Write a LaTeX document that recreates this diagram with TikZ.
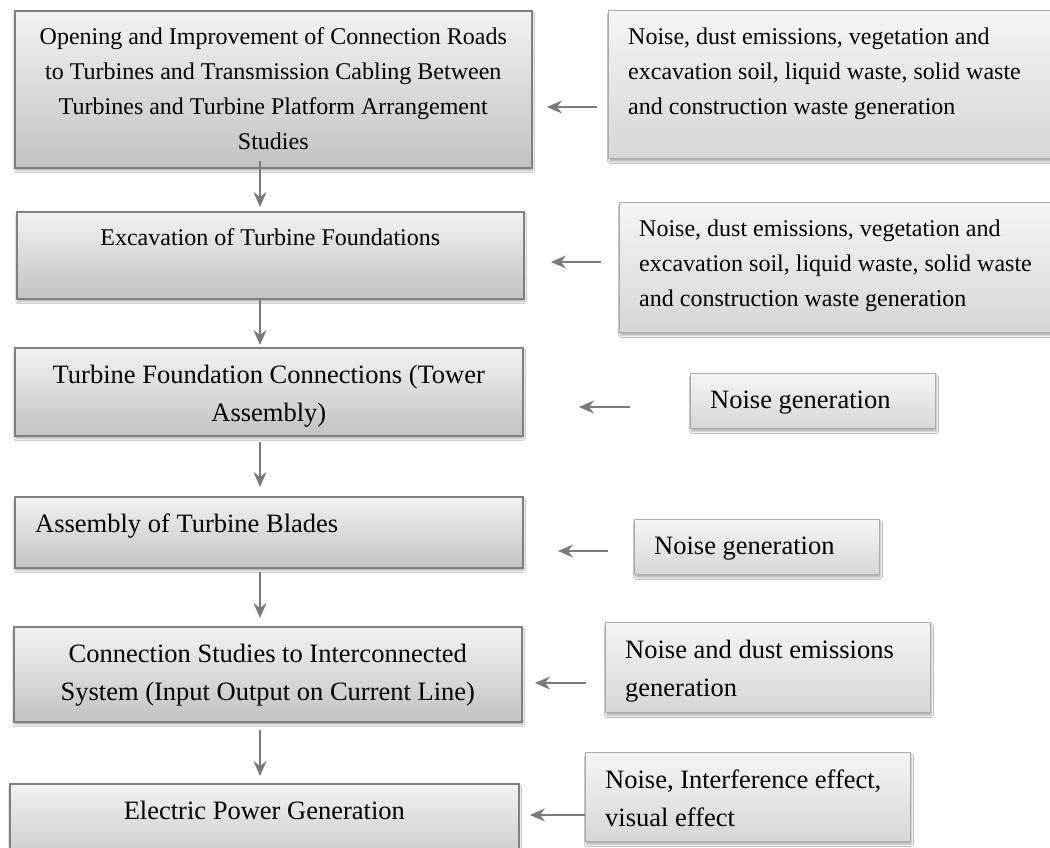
\documentclass[tikz,border=0pt]{standalone}
\usepackage{fontspec}
\setmainfont{Liberation Serif}
\usepackage{tikz}
\usetikzlibrary{positioning,arrows.meta,shadows.blur}
\definecolor{stepline}{RGB}{128,128,128}
\definecolor{steptop}{RGB}{242,242,242}
\definecolor{stepbot}{RGB}{194,194,194}
\definecolor{effline}{RGB}{172,172,172}
\definecolor{efftop}{RGB}{245,245,245}
\definecolor{effbot}{RGB}{214,214,214}
\definecolor{flowgray}{RGB}{122,122,122}

\begin{document}
\begin{tikzpicture}[x=1pt,y=-1pt,
  stepbox/.style={rectangle,draw=stepline,line width=1.6pt,top color=steptop,bottom color=stepbot,
    anchor=north west,inner sep=0pt,
    blur shadow={shadow xshift=1pt,shadow yshift=-3pt,shadow blur steps=6,shadow opacity=30}},
  effbox/.style={rectangle,draw=effline,line width=1.1pt,top color=efftop,bottom color=effbot,
    anchor=north west,inner sep=0pt,
    blur shadow={shadow xshift=1pt,shadow yshift=-3pt,shadow blur steps=6,shadow opacity=30}},
  big/.style={font=\fontsize{24}{35}\selectfont},
  norm/.style={font=\fontsize{26.5}{38}\selectfont},
  txt/.style={inner sep=0pt,align=center},
  txtl/.style={inner sep=0pt,align=left},
  flow/.style={draw=flowgray,line width=1.6pt,-{Stealth[length=15pt,width=13pt,inset=5pt]}}]
\useasboundingbox[fill=white] (0,0) rectangle (1050,848);

% process steps (left) and their effects (right)
\foreach \n/\x/\y/\w/\h in {b1/14/10/517/157, b2/16/211/507/87, b3/14/347/508/88,
    b4/14/496/508/71, b5/13/626/508/95, b6/9/783/509/90}
  \node[stepbox,minimum width=\w pt,minimum height=\h pt] (\n) at (\x,\y) {};
\foreach \n/\x/\y/\w/\h in {r1/608/10/460/148, r2/619/202/450/130, r3/690/373/245/55,
    r4/634/519/245/55, r5/605/622/325/90, r6/585/752/325/89}
  \node[effbox,minimum width=\w pt,minimum height=\h pt] (\n) at (\x,\y) {};

\node[txt,big,below=17.5pt of b1.north] (t1) {Opening and Improvement of Connection Roads\\
  to Turbines and Transmission Cabling Between\\Turbines and Turbine Platform Arrangement\\Studies};
\node[txt,big,below=17.5pt of b2.north] (t2) {Excavation of Turbine Foundations};
\node[txt,norm,below=17.5pt of b3.north] (t3) {Turbine Foundation Connections (Tower\\Assembly)};
\node[txtl,norm,below right=17.5pt and 21pt of b4.north west] (t4) {Assembly of Turbine Blades};
\node[txt,norm,below=17.5pt of b5.north] (t5) {Connection Studies to Interconnected\\
  System (Input Output on Current Line)};
\node[txt,norm,below=17.5pt of b6.north] (t6) {Electric Power Generation};

\node[txtl,big,below right=17.5pt and 20pt of r1.north west] (q1) {Noise, dust emissions, vegetation and\\
  excavation soil, liquid waste, solid waste\\and construction waste generation};
\node[txtl,big,below right=17.5pt and 20pt of r2.north west] (q2) {Noise, dust emissions, vegetation and\\
  excavation soil, liquid waste, solid waste\\and construction waste generation};
\node[txtl,norm,below right=17.5pt and 20pt of r3.north west] (q3) {Noise generation};
\node[txtl,norm,below right=17.5pt and 20pt of r4.north west] (q4) {Noise generation};
\node[txtl,norm,below right=17.5pt and 20pt of r5.north west] (q5) {Noise and dust emissions\\generation};
\node[txtl,norm,below right=17.5pt and 20pt of r6.north west] (q6) {Noise, Interference effect,\\visual effect};

% arrows down the chain
\coordinate (spine) at (260,0);
\foreach \a/\b/\s/\e in {b1/b2/-8pt/4pt, b2/b3/0pt/2pt, b3/b4/5pt/9pt, b4/b5/3pt/8pt, b5/b6/7pt/7pt}
  \draw[flow,shorten <=\s,shorten >=\e] (\a.south -| spine) -- (\b.north -| spine);

% arrows from the effects
\foreach \i/\xa/\xb/\y in {1/597/547/107, 2/601/551/262, 3/630/579/407,
    4/608/558/551, 5/586/535/683, 6/585/530/815} {
  \coordinate (s\i) at (\xa,\y);
  \coordinate (e\i) at (\xb,\y);
  \draw[flow,line width=1.3pt] (s\i) -- (e\i);
}
\end{tikzpicture}
\end{document}
